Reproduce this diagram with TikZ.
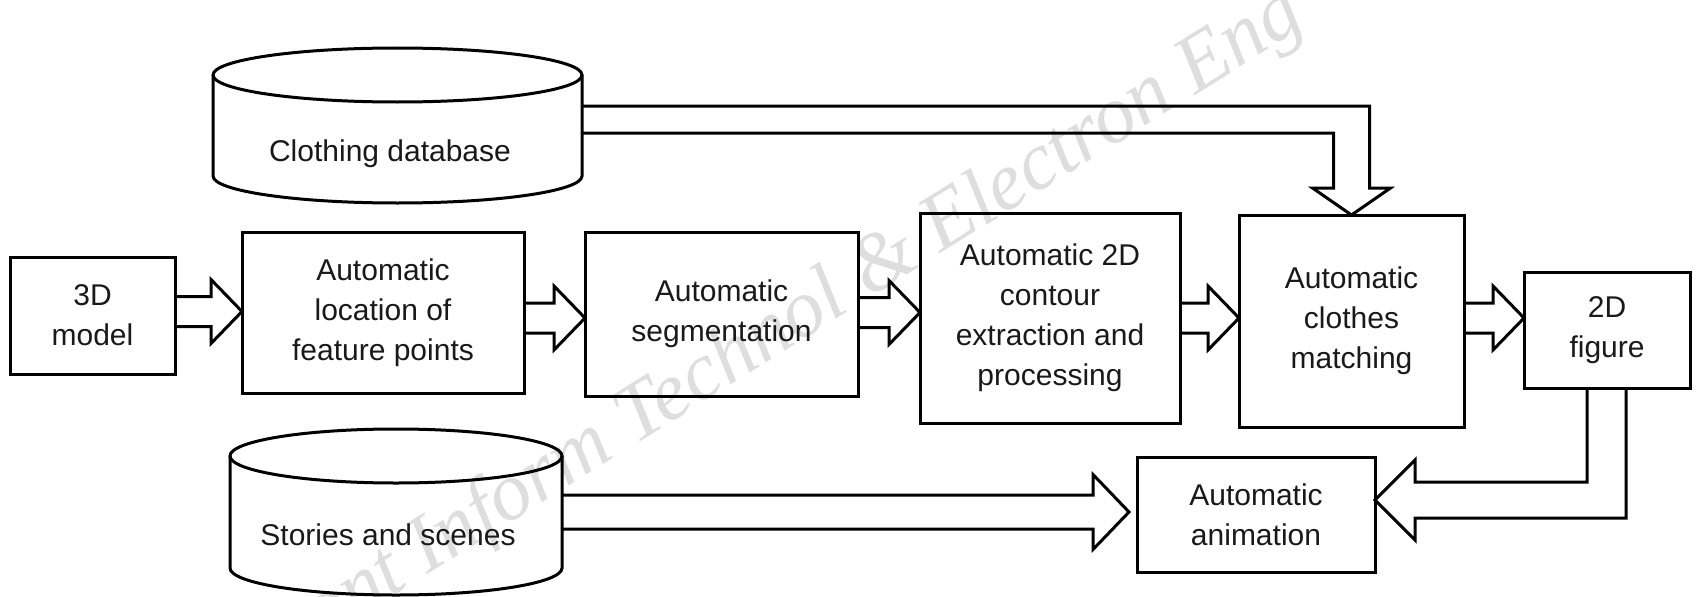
\documentclass[tikz,border=0pt]{standalone}
\usepackage{fontspec}
\setmainfont{Liberation Sans}
\newfontfamily\wmfont{Liberation Serif}
\usetikzlibrary{calc}

\tikzset{
  box/.style={draw, line width=1.5pt, outer sep=0pt, inner sep=0pt, align=center,
              font=\fontsize{15}{20}\selectfont, text=black!90},
  blk/.style={draw, line width=1.5pt, line join=miter},
  lbl/.style={font=\fontsize{15}{20}\selectfont, text=black!90, inner sep=0pt},
  cylbody/.style={outer sep=0pt, inner sep=0pt},
}

% hollow block arrow from the east side of #1 to the west side of #2 at height #3
\newcommand\flowarrow[3]{%
  \draw[blk] ($(#1.east |- 0,#3)+(0,15)$) -- ($(#2.west |- 0,#3)+(-31,15)$)
    -- ($(#2.west |- 0,#3)+(-31,32)$) -- (#2.west |- 0,#3)
    -- ($(#2.west |- 0,#3)+(-31,-32)$) -- ($(#2.west |- 0,#3)+(-31,-15)$)
    -- ($(#1.east |- 0,#3)+(0,-15)$);}

\begin{document}
\begin{tikzpicture}[x=0.5pt,y=0.5pt]
\useasboundingbox (0,0) rectangle (1696,596);

% journal watermark
\begin{scope}
  \clip (0,0) rectangle (1696,596);
  \node[rotate=32, anchor=base west, inner sep=0pt, text=black!13,
        font=\wmfont\itshape\fontsize{41}{41}\selectfont] (wm) at (254,-87)
        {Front Inform Technol \& Electron Eng};
\end{scope}

% process boxes
\node[box, minimum width=82.5pt, minimum height=58.5pt] (m3d)   at (92.5,280.5) {3D\\model};
\node[box, minimum width=141pt,  minimum height=80.5pt] (loc)   at (383,283.5)  {Automatic\\location of\\feature points};
\node[box, minimum width=136.5pt,minimum height=82pt]   (seg)   at (721.5,282)  {Automatic\\segmentation};
\node[box, minimum width=130pt,  minimum height=105pt]  (cont)  at (1050,278)   {Automatic 2D\\contour\\extraction and\\processing};
\node[box, minimum width=112.5pt,minimum height=106pt]  (match) at (1351.5,275) {Automatic\\clothes\\matching};
\node[box, minimum width=83pt,   minimum height=58pt]   (fig)   at (1607,266)   {2D\\figure};
\node[box, minimum width=119pt,  minimum height=57.5pt] (anim)  at (1256,81.5)  {Automatic\\animation};

% databases
\node[cylbody, minimum width=184.5pt, minimum height=50.5pt] (db) at (397.5,470.5) {};
\draw[blk] (db.north west) -- (db.south west)
  arc[start angle=180, end angle=360, x radius=92.25pt, y radius=13.5pt] -- (db.north east);
\draw[blk] (db.north) ellipse [x radius=92.25pt, y radius=13.5pt];
\node[lbl, anchor=base] (dbtext) at (390,435) {Clothing database};

\node[cylbody, minimum width=166pt, minimum height=56pt] (ss) at (396,84) {};
\draw[blk] (ss.north west) -- (ss.south west)
  arc[start angle=180, end angle=360, x radius=83pt, y radius=13.5pt] -- (ss.north east);
\draw[blk] (ss.north) ellipse [x radius=83pt, y radius=13.5pt];
\node[lbl, anchor=base] (sstext) at (388,51) {Stories and scenes};

% main flow
\flowarrow{m3d}{loc}{284.5}
\flowarrow{loc}{seg}{278}
\flowarrow{seg}{cont}{283.5}
\flowarrow{cont}{match}{278}
\flowarrow{match}{fig}{278}

% clothing database into matching
\draw[blk] (db.east |- 0,490) -- ($(match.north |- 0,490)+(18,0)$)
  -- ($(match.north)+(18,27)$) -- ($(match.north)+(39,27)$) -- (match.north)
  -- ($(match.north)+(-39,27)$) -- ($(match.north)+(-18,27)$)
  -- ($(match.north |- 0,463)+(-18,0)$) -- (db.east |- 0,463);

% stories and scenes into animation
\draw[blk] ($(ss.east)+(0,17)$) -- ($(anim.west |- ss.east)+(-44,17)$)
  -- ($(anim.west |- ss.east)+(-44,37.5)$) -- ($(anim.west |- ss.east)+(-8,0)$)
  -- ($(anim.west |- ss.east)+(-44,-37.5)$) -- ($(anim.west |- ss.east)+(-44,-17)$)
  -- ($(ss.east)+(0,-17)$);

% 2D figure into animation
\draw[blk] ($(fig.south)+(-20,0)$) -- ($(fig.south |- 0,114)+(-20,0)$)
  -- ($(anim.east |- 0,114)+(40,0)$) -- ($(anim.east |- 0,96)+(40,40)$)
  -- (anim.east |- 0,96) -- ($(anim.east |- 0,96)+(40,-40)$)
  -- ($(anim.east |- 0,78)+(40,0)$) -- ($(fig.south |- 0,78)+(19,0)$)
  -- ($(fig.south)+(19,0)$);
\end{tikzpicture}
\end{document}
